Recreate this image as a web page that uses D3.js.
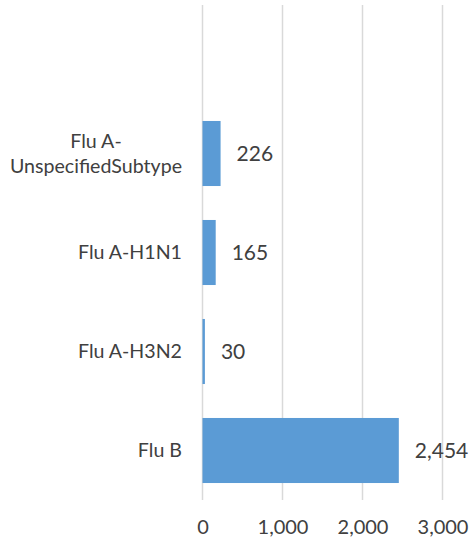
<!DOCTYPE html>
<html>
<head>
<meta charset="utf-8">
<script src="https://cdn.jsdelivr.net/npm/d3@7"></script>
<style>
  html, body { margin: 0; padding: 0; background: #fff; }
  svg { display: block; }
</style>
</head>
<body>
<svg id="chart" width="470" height="541"></svg>
<script>
// Data (top to bottom); first category is an empty slot in the original chart
const categories = ["", "Flu A-UnspecifiedSubtype", "Flu A-H1N1", "Flu A-H3N2", "Flu B"];
const labelLines = [[], ["Flu A-", "UnspecifiedSubtype"], ["Flu A-H1N1"], ["Flu A-H3N2"], ["Flu B"]];
const values = [null, 226, 165, 30, 2454];
const tickValues = [0, 1000, 2000, 3000];

const svg = d3.select("#chart");
const font = "Lato, 'Open Sans', sans-serif";
const textColor = "#404040";

const x = d3.scaleLinear().domain([0, 3000]).range([202.5, 442.5]);
const y = d3.scaleBand().domain(categories).range([5, 500])
  .paddingInner(0.343).paddingOuter(0.1715);

// Gridlines
svg.append("g").selectAll("line").data(tickValues).join("line")
  .attr("x1", d => x(d)).attr("x2", d => x(d))
  .attr("y1", 5).attr("y2", 500)
  .attr("stroke", "#d9d9d9").attr("stroke-width", 1.5);

// X axis tick labels
const xAxis = d3.axisBottom(x).tickValues(tickValues).tickSize(0).tickPadding(0)
  .tickFormat(d3.format(","));
const gx = svg.append("g").attr("transform", "translate(0,520)").call(xAxis);
gx.select(".domain").remove();
gx.selectAll("text").attr("font-family", font).attr("font-size", 20)
  .attr("fill", textColor).attr("dy", "0.71em");

const rows = categories.map((c, i) => ({ cat: c, lines: labelLines[i], value: values[i] }));

// Bars
svg.append("g").selectAll("rect").data(rows.filter(d => d.value != null)).join("rect")
  .attr("x", x(0))
  .attr("y", d => y(d.cat))
  .attr("width", d => x(d.value) - x(0))
  .attr("height", y.bandwidth())
  .attr("fill", "#5b9bd5");

// Value labels
svg.append("g").selectAll("text").data(rows.filter(d => d.value != null)).join("text")
  .attr("x", d => x(d.value) + 16)
  .attr("y", d => y(d.cat) + y.bandwidth() / 2)
  .attr("dy", "0.35em")
  .attr("font-family", font).attr("font-size", 21)
  .attr("fill", textColor)
  .text(d => d3.format(",")(d.value));

// Category labels (centered lines, block right-aligned)
const lineH = 25;
const catG = svg.append("g");
rows.forEach(r => {
  if (!r.lines.length) return;
  const cy = y(r.cat) + y.bandwidth() / 2;
  const t = catG.append("text")
    .attr("font-family", font).attr("font-size", 19.6)
    .attr("fill", textColor).attr("text-anchor", "middle");
  const n = r.lines.length;
  r.lines.forEach((ln, i) => {
    t.append("tspan").attr("x", 0)
      .attr("y", cy + (i - (n - 1) / 2) * lineH)
      .attr("dy", "0.35em").text(ln);
  });
  // right-align block at x=182
  const w = t.node().getBBox().width;
  t.selectAll("tspan").attr("x", 182 - w / 2);
});
</script>
</body>
</html>
